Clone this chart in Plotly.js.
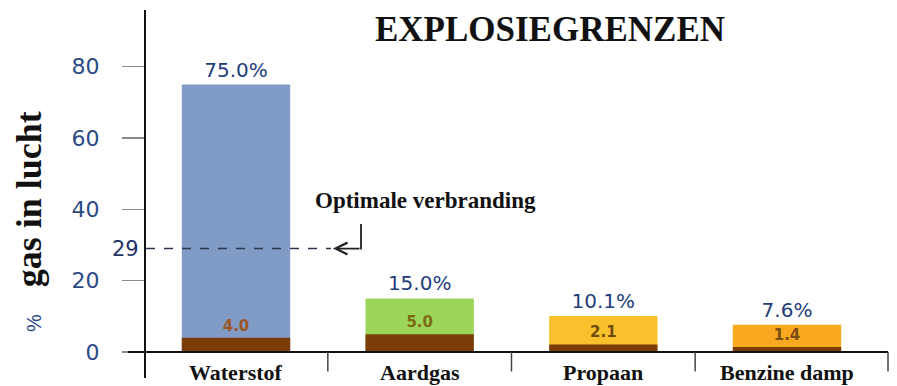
<!DOCTYPE html>
<html>
<head>
<meta charset="utf-8">
<script src="https://cdn.plot.ly/plotly-3.0.1.min.js"></script>
<style>html,body{margin:0;padding:0;background:#fff;}#chart{width:897px;height:386px;}</style>
</head>
<body>
<div id="chart"></div>
<script>
const categories = ['Waterstof', 'Aardgas', 'Propaan', 'Benzine damp'];
const upperLimit = [75.0, 15.0, 10.1, 7.6];
const lowerLimit = [4.0, 5.0, 2.1, 1.4];
const optimalValue = 29;
const yTickValues = [0, 20, 40, 60, 80];
const chartTitle = 'EXPLOSIEGRENZEN';
const optimalLabel = 'Optimale verbranding';

const upperColors = ['#809bc5', '#9bd65a', '#f9c22c', '#f8a91f'];
const lowerColor = '#7a3d08';
const lowerTextColors = ['#9a5628', '#7d6b14', '#6e4b0c', '#7d4c12'];

const W = 897, H = 386;
const L = 146, R = 888, T = 10, B = 378;
const px = x => (x - L) / (R - L);
const py = y => (B - y) / (B - T);

const traces = [
  {
    type: 'bar', x: categories, y: upperLimit, width: 0.59,
    marker: {color: upperColors, line: {width: 0}},
    texttemplate: '%{y:.1f}%', textposition: 'outside', cliponaxis: false,
    textfont: {family: 'DejaVu Sans', size: 20, color: '#1f3d7a'},
    hoverinfo: 'x+y'
  },
  {
    type: 'bar', x: categories, y: lowerLimit, width: 0.59,
    marker: {color: lowerColor, line: {width: 0}},
    texttemplate: '%{y:.1f}', textposition: 'outside', cliponaxis: false,
    textfont: {family: 'DejaVu Sans', size: 15, color: lowerTextColors, weight: 'bold'},
    hoverinfo: 'x+y'
  }
];

const shapes = [
  {type: 'line', xref: 'paper', yref: 'y', x0: px(128), x1: 1, y0: 0, y1: 0,
   line: {color: '#111', width: 2}, layer: 'above'},
  {type: 'line', xref: 'paper', yref: 'y', x0: 0, x1: px(331), y0: optimalValue, y1: optimalValue,
   line: {color: '#2a3550', width: 1.6, dash: 'dash'}, layer: 'above'},
  {type: 'line', xref: 'paper', yref: 'paper', x0: px(361), x1: px(361), y0: py(224), y1: py(249.5),
   line: {color: '#222', width: 1.8}},
  ...[0.5, 1.5, 2.5].map(v => ({type: 'line', xref: 'x', yref: 'y', x0: v, x1: v, y0: 0, y1: -5.5,
   line: {color: '#444', width: 1.5}})),
  {type: 'line', xref: 'paper', yref: 'y', x0: 1, x1: 1, y0: 0, y1: -5.5, line: {color: '#444', width: 1.5}}
];

const annotations = [
  {xref: 'paper', yref: 'paper', x: px(29), y: py(222), textangle: -90, showarrow: false,
   text: '<span style="font-family:Arial;color:#2b4a85;font-size:20px;font-weight:normal">%</span>&nbsp;&nbsp; gas in lucht',
   font: {family: 'Liberation Serif', size: 36, color: '#111', weight: 'bold'},
   xanchor: 'center', yanchor: 'middle'},
  {xref: 'paper', yref: 'y', x: px(141), y: optimalValue, text: String(optimalValue), showarrow: false,
   xanchor: 'right', yanchor: 'middle',
   font: {family: 'DejaVu Sans', size: 21, color: '#1f3566'}},
  {xref: 'paper', yref: 'paper', x: px(425), y: py(200), text: optimalLabel, showarrow: false,
   xanchor: 'center', yanchor: 'middle',
   font: {family: 'Liberation Serif', size: 23, color: '#111', weight: 'bold'}},
  {xref: 'paper', yref: 'y', x: px(333), y: optimalValue, text: '', showarrow: true,
   ax: 28, ay: 0, arrowhead: 5, arrowsize: 1.3, arrowwidth: 1.8, arrowcolor: '#222', standoff: 0},
  ...categories.map((c, i) => ({xref: 'x', yref: 'paper', x: i, y: py(386), text: c, showarrow: false,
   xanchor: 'center', yanchor: 'bottom', borderpad: 0,
   font: {family: 'Liberation Serif', size: 22, color: '#111', weight: 'bold'}}))
];

const layout = {
  width: W, height: H,
  margin: {l: L, r: W - R, t: T, b: H - B, pad: 0},
  paper_bgcolor: '#fff', plot_bgcolor: '#fff',
  barmode: 'overlay', showlegend: false,
  title: {text: chartTitle, x: 550 / W, xanchor: 'center', y: 1 - 29 / H, yanchor: 'middle', yref: 'container',
          font: {family: 'Liberation Serif', size: 35, color: '#111', weight: 'bold'}},
  xaxis: {type: 'category', range: [-0.49, 3.55], showticklabels: false, showline: false,
          showgrid: false, zeroline: false, ticks: '', fixedrange: true},
  yaxis: {range: [-7.3, 95.9], tickvals: yTickValues, ticktext: yTickValues.map(String),
          showline: true, linecolor: '#111', linewidth: 2, showgrid: false, zeroline: false,
          ticks: 'outside', ticklen: 22, tickcolor: '#8a8a8a', tickwidth: 1.5,
          ticklabelstandoff: 18,
          tickfont: {family: 'DejaVu Sans', size: 22, color: '#2b4a85'}, fixedrange: true},
  shapes: shapes, annotations: annotations
};

Plotly.newPlot('chart', traces, layout, {displayModeBar: false, staticPlot: true});
</script>
</body>
</html>
